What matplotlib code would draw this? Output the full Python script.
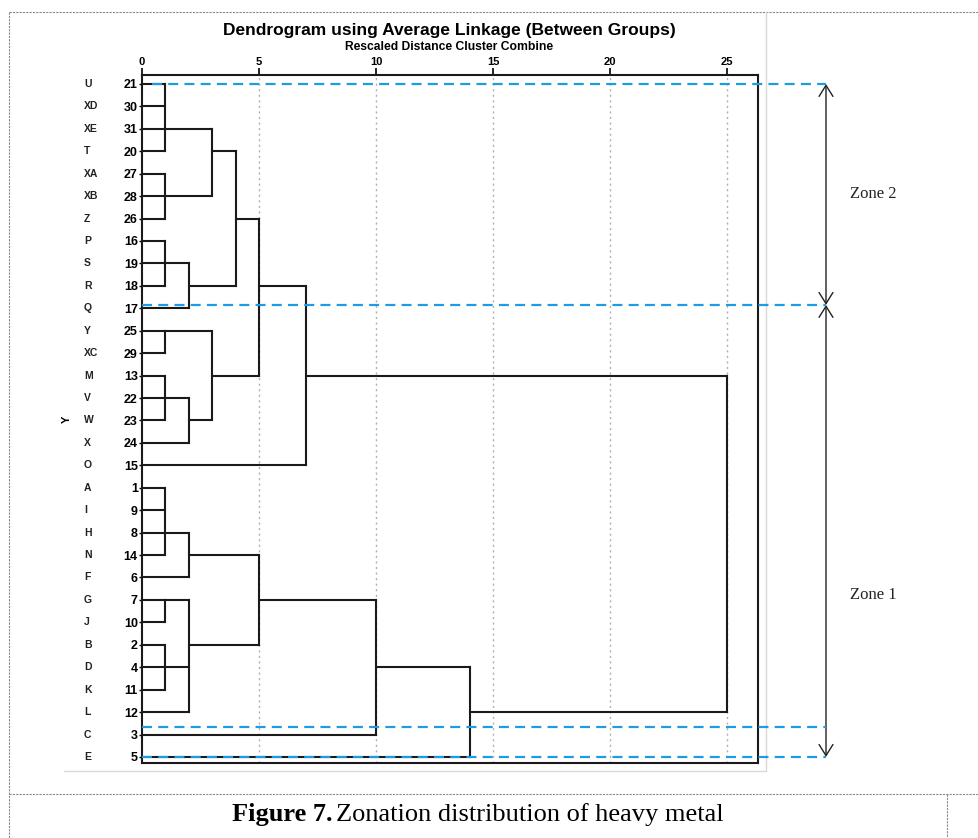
import matplotlib
matplotlib.use("Agg")
import matplotlib.pyplot as plt
from matplotlib.patches import FancyArrowPatch

# leaves, top to bottom
letters = ['U', 'XD', 'XE', 'T', 'XA', 'XB', 'Z', 'P', 'S', 'R', 'Q', 'Y', 'XC', 'M', 'V', 'W',
           'X', 'O', 'A', 'I', 'H', 'N', 'F', 'G', 'J', 'B', 'D', 'K', 'L', 'C', 'E']
numbers = [21, 30, 31, 20, 27, 28, 26, 16, 19, 18, 17, 25, 29, 13, 22, 23,
           24, 15, 1, 9, 8, 14, 6, 7, 10, 2, 4, 11, 12, 3, 5]

# merges as SPSS draws them: (name, children, rescaled distance, row the joint leaves from)
merges = [
    ('m1', ['U', 'XD', 'XE', 'T'], 1, 'XE'),
    ('m2', ['XA', 'XB', 'Z'], 1, 'XB'),
    ('m3', ['m1', 'm2'], 3, 'T'),
    ('m4', ['P', 'S', 'R'], 1, 'S'),
    ('m5', ['m4', 'Q'], 2, 'R'),
    ('m6', ['m3', 'm5'], 4, 'Z'),
    ('m7', ['Y', 'XC'], 1, 'Y'),
    ('m8', ['M', 'V', 'W'], 1, 'V'),
    ('m9', ['m8', 'X'], 2, 'W'),
    ('m10', ['m7', 'm9'], 3, 'M'),
    ('m11', ['m6', 'm10'], 5, 'R'),
    ('m12', ['m11', 'O'], 7, 'M'),
    ('m13', ['A', 'I', 'H', 'N'], 1, 'H'),
    ('m14', ['m13', 'F'], 2, 'N'),
    ('m15', ['G', 'J'], 1, 'G'),
    ('m16', ['B', 'D', 'K'], 1, 'D'),
    ('m17', ['m15', 'm16', 'L'], 2, 'B'),
    ('m18', ['m14', 'm17'], 5, 'G'),
    ('m19', ['m18', 'C'], 10, 'D'),
    ('m20', ['m19', 'E'], 14, 'L'),
    ('m21', ['m12', 'm20'], 25, 'M'),
]

x_ticks = [0, 5, 10, 15, 20, 25]
# zone boundaries in row units
zone_rows = [0.0, 9.85, 28.67, 30.0]
zone_names = ['Zone 2', 'Zone 1']
zone_label_rows = [4.9, 22.8]

W, H = 979, 838
fig = plt.figure(figsize=(W / 100, H / 100), dpi=100)

# decoration layer in pixel coords
deco = fig.add_axes([0, 0, 1, 1])
deco.set_xlim(0, W)
deco.set_ylim(H, 0)
deco.axis('off')
gk = dict(color='#8a8a8a', lw=0.8, ls=(0, (2, 1)))
deco.plot([9, W], [12, 12], **gk)
deco.plot([9, 9], [12, H], **gk)
deco.plot([9, W], [794, 794], **gk)
deco.plot([947, 947], [794, H], **gk)
deco.plot([64, 766, 766], [771, 771, 12], color='#d8d8d8', lw=1)

deco.text(449, 30, 'Dendrogram using Average Linkage (Between Groups)', ha='center', va='center',
          fontsize=12.5, fontweight='bold', family='Liberation Sans')
deco.text(449, 47, 'Rescaled Distance Cluster Combine', ha='center', va='center',
          fontsize=8.7, fontweight='bold', family='Liberation Sans')
deco.text(333, 821, 'Figure 7.', ha='right', va='baseline', fontsize=19, fontweight='bold',
          family='Liberation Serif')
deco.text(336, 821, 'Zonation distribution of heavy metal', ha='left', va='baseline', fontsize=19,
          family='Liberation Serif')

ax = fig.add_axes([142 / W, 1 - 763 / H, 616 / W, 688 / H])
ax.set_xlim(0, 616 / 23.4)
ax.set_ylim(30.27, -0.40)

row = {name: i for i, name in enumerate(letters)}
nodes = {name: (0, i) for i, name in enumerate(letters)}
lk = dict(color='#1a1a1a', lw=1.5, solid_capstyle='projecting')
for name, kids, lev, attach in merges:
    rows = []
    for k in kids:
        kx, kr = nodes[k]
        ax.plot([kx, lev], [kr, kr], **lk)
        rows.append(kr)
    ax.plot([lev, lev], [min(rows), max(rows)], **lk)
    nodes[name] = (lev, row[attach])

for t in x_ticks[1:]:
    ax.axvline(t, color='#b0b0b0', lw=1, ls=(0, (1.5, 2.5)), zorder=0)

ax.xaxis.tick_top()
ax.set_xticks(x_ticks)
ax.set_xticklabels([str(t) for t in x_ticks], fontsize=8, fontweight='bold', family='Liberation Sans')
ax.tick_params(axis='x', length=5, width=1.2, pad=1)
ax.set_yticks(range(len(numbers)))
ax.set_yticklabels([str(n) for n in numbers], fontsize=9, fontweight='bold', family='Liberation Sans')
ax.tick_params(axis='y', length=2, width=1, pad=1)
for s in ax.spines.values():
    s.set_linewidth(1.5)
    s.set_color('#1a1a1a')

tr = ax.get_yaxis_transform()
for i, lab in enumerate(letters):
    ax.text(-0.094, i, lab, transform=tr, ha='left', va='center', fontsize=7.5,
            fontweight='bold', family='Liberation Sans', color='#222')
ax.set_ylabel('Y', fontsize=8, fontweight='bold', family='Liberation Sans')
ax.yaxis.set_label_coords(-0.114, 0.5)

# zone boundary lines and arrows
x_end = (826 - 142) / 616
for j, zr in enumerate(zone_rows):
    x0 = 0.016 if j == 0 else 0.0
    ax.plot([x0, x_end], [zr, zr], transform=tr, color='#1f9be6', lw=1.6,
            dashes=(4.5, 2.8), clip_on=False, zorder=5)
for j, zn in enumerate(zone_names):
    a, b = zone_rows[j], zone_rows[j + 1] if j == 0 else zone_rows[-1]
    arr = FancyArrowPatch((x_end, a), (x_end, b), transform=tr, arrowstyle='<->,head_length=0.4,head_width=0.25',
                          mutation_scale=20, color='#222', lw=1, clip_on=False, shrinkA=0, shrinkB=0)
    ax.add_patch(arr)
    ax.text((850 - 142) / 616, zone_label_rows[j], zn, transform=tr, ha='left', va='center',
            fontsize=12, family='Liberation Serif', color='#222')

fig.savefig('out.png', dpi=100)
